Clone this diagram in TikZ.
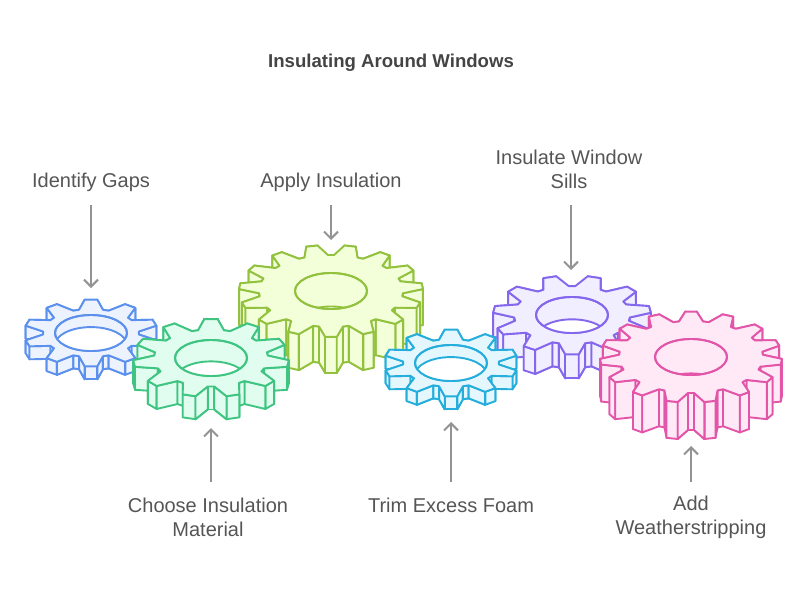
\documentclass[tikz,border=0pt]{standalone}
\usepackage{fontspec}
\setmainfont{Liberation Sans}
\usetikzlibrary{arrows.meta}
\definecolor{ttl}{HTML}{444444}
\definecolor{lbl}{HTML}{555555}
\definecolor{arr}{HTML}{939393}
\definecolor{fblue}{HTML}{ECF3FF}\definecolor{sblue}{HTML}{5B90EC}
\definecolor{fgreen}{HTML}{E1FDF0}\definecolor{sgreen}{HTML}{3FC581}
\definecolor{flime}{HTML}{F3FFD9}\definecolor{slime}{HTML}{92C13E}
\definecolor{fpurple}{HTML}{F1EEFF}\definecolor{spurple}{HTML}{8467ED}
\definecolor{fcyan}{HTML}{E4F7FF}\definecolor{scyan}{HTML}{25AEDB}
\definecolor{fpink}{HTML}{FFE9F6}\definecolor{spink}{HTML}{E255A8}
\tikzset{
  gearline/.style={line width=1.9pt,line join=round,line cap=round},
  labeltext/.style={text=lbl,font=\fontsize{20}{24}\selectfont,align=center},
  titletext/.style={text=ttl,font=\bfseries\fontsize{18.6}{22}\selectfont},
  pointer/.style={draw=arr,line width=2pt,-{Straight Barb[length=7pt,width=14pt,line width=2pt]}}
}
\newcommand{\gearpt}[3]{({\gcx+(#2)*cos(#1)},{\gcy-0.5*(#2)*sin(#1)+(#3)})}
\newcommand{\gearquad}[4]{%
  \path[gearline,fill=\gfill,draw=\gstroke]
    \gearpt{#1}{#2}{0} -- \gearpt{#3}{#4}{0} -- \gearpt{#3}{#4}{\gd} -- \gearpt{#1}{#2}{\gd} -- cycle;}
\newcommand{\gearsides}[3]{% sign, last index, first tooth angle
  \foreach \k in {0,...,#2}{
    \pgfmathsetmacro{\ta}{#3+#1*\k*\gstep}
    \pgfmathsetmacro{\tb}{\ta+#1*\gtip}
    \pgfmathsetmacro{\tc}{\ta+#1*(0.5*\gstep-\groot)}
    \pgfmathsetmacro{\td}{\ta+#1*(0.5*\gstep+\groot)}
    \pgfmathsetmacro{\te}{\ta+#1*(\gstep-\gtip)}
    \pgfmathsetmacro{\tz}{\ta-#1*\gtip}
    \gearquad{\tz}{\gR}{\tb}{\gR}
    \gearquad{\tb}{\gR}{\tc}{\gr}
    \gearquad{\tc}{\gr}{\td}{\gr}
    \gearquad{\td}{\gr}{\te}{\gR}
  }}
\newcommand{\gear}[9]{%
  \begingroup
  \def\gcx{#1}\def\gcy{#2}\def\gR{#3}\def\gr{#4}\def\gd{#6}\def\gfill{#8}\def\gstroke{#9}%
  \pgfmathsetmacro{\gstep}{360/#5}\def\gstart{#7}%
  \pgfmathsetmacro{\gtip}{\gstep*0.15}\pgfmathsetmacro{\groot}{\gstep*0.10}%
  \pgfmathtruncatemacro{\gn}{#5/2}%
  \pgfmathsetmacro{\gfirst}{#7>0 ? 90 : 90-0.5*\gstep}%
  \pgfmathsetmacro{\gsecond}{#7>0 ? 90 : 90+0.5*\gstep}%
  \gearsides{-1}{\gn}{\gfirst}
  \gearsides{1}{\gn}{\gsecond}
  \path[gearline,fill=\gfill,draw=\gstroke]
    \gearpt{\gstart-\gtip}{\gR}{0}
    \foreach \k in {1,...,#5}{
      -- \gearpt{\gstart+(\k-1)*\gstep+\gtip}{\gR}{0}
      -- \gearpt{\gstart+(\k-0.5)*\gstep-\groot}{\gr}{0}
      -- \gearpt{\gstart+(\k-0.5)*\gstep+\groot}{\gr}{0}
      -- \gearpt{\gstart+\k*\gstep-\gtip}{\gR}{0}
    } -- cycle;
  \path[gearline,fill=\gfill,draw=\gstroke] (\gcx,\gcy) ellipse [x radius=36,y radius=18];
  \begin{scope}
    \clip (\gcx,\gcy) ellipse [x radius=36,y radius=18];
    \path[gearline,fill=white,draw=\gstroke] (\gcx,\gcy+\gd*0.93) ellipse [x radius=36,y radius=18];
  \end{scope}
  \path[gearline,draw=\gstroke] (\gcx,\gcy) ellipse [x radius=36,y radius=18];
  \endgroup}
\begin{document}
\begin{tikzpicture}[x=1pt,y=-1pt]
\useasboundingbox (0,0) rectangle (808,591);
\gear{91}{333}{67}{48}{10}{13}{90}{fblue}{sblue}
\gear{331}{291}{92}{72}{15}{36}{-90}{flime}{slime}
\gear{211}{358}{78}{57}{11}{23}{90}{fgreen}{sgreen}
\gear{572}{315}{79}{58}{11}{24}{-90}{fpurple}{spurple}
\gear{451}{363}{67}{48}{10}{13}{90}{fcyan}{scyan}
\gear{691}{357}{91}{72}{15}{37}{90}{fpink}{spink}
\node[titletext] (title) at (391,62.5) {Insulating Around Windows};
\node[labeltext] (l1) at (91,182.5) {Identify Gaps};
\node[labeltext] (l2) at (208,517.5) {Choose Insulation\\Material};
\node[labeltext] (l3) at (331,182.5) {Apply Insulation};
\node[labeltext] (l4) at (451,505.5) {Trim Excess Foam};
\node[labeltext] (l5) at (569,169) {Insulate Window\\Sills};
\node[labeltext] (l6) at (691,517.5) {Add\\Weatherstripping};
\coordinate (a1s) at (91,205); \coordinate (a1e) at (91,288);
\coordinate (a2s) at (211,482); \coordinate (a2e) at (211,428);
\coordinate (a3s) at (331,205); \coordinate (a3e) at (331,240);
\coordinate (a4s) at (451,482); \coordinate (a4e) at (451,422);
\coordinate (a5s) at (571,205); \coordinate (a5e) at (571,270);
\coordinate (a6s) at (691,482); \coordinate (a6e) at (691,446);
\foreach \i in {1,...,6}{\draw[pointer] (a\i s) -- (a\i e);}
\end{tikzpicture}
\end{document}
